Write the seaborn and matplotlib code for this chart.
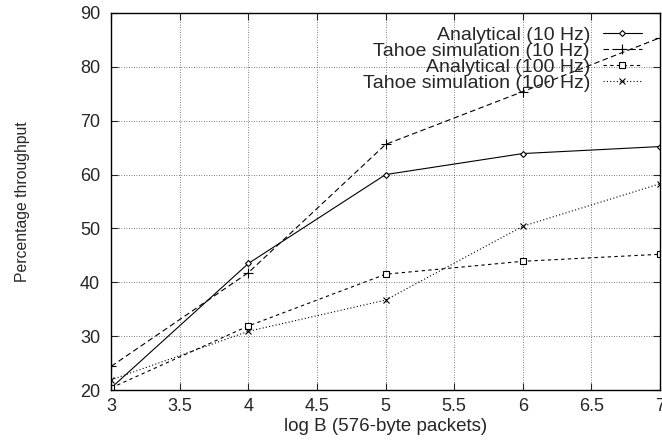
import numpy as np
import pandas as pd
import seaborn as sns
import matplotlib
matplotlib.use("Agg")
import matplotlib.pyplot as plt

# =============================================================================
# DATA
# =============================================================================

log_b = [3, 4, 5, 6, 7]

analytical_10 = [20.4, 43.5, 60.0, 63.9, 65.2]
tahoe_10 = [24.4, 41.8, 65.6, 75.4, 85.4]
analytical_100 = [20.4, 31.9, 41.5, 43.9, 45.2]
tahoe_100 = [21.9, 30.9, 36.7, 50.4, 58.3]

labels = [
    "Analytical (10 Hz)",
    "Tahoe simulation (10 Hz)",
    "Analytical (100 Hz)",
    "Tahoe simulation (100 Hz)",
]

x_ticks = [3, 3.5, 4, 4.5, 5, 5.5, 6, 6.5, 7]
x_tick_labels = ["3", "3.5", "4", "4.5", "5", "5.5", "6", "6.5", "7"]
y_ticks = [20, 30, 40, 50, 60, 70, 80, 90]

# =============================================================================
# STYLE
# =============================================================================

sns.set_style("ticks")
plt.rcParams["font.family"] = ["Liberation Sans", "DejaVu Sans"]

fig = plt.figure(figsize=(6.62, 4.41), dpi=100)
ax = fig.add_axes([0.168, 0.1156, 0.829, 0.855])

series = [analytical_10, tahoe_10, analytical_100, tahoe_100]
styles = [
    dict(linestyle="-", marker="D", markersize=3, markerfacecolor="white"),
    dict(linestyle=(0, (5, 3)), marker="+", markersize=7),
    dict(linestyle=(0, (3, 3)), marker="s", markersize=5, markerfacecolor="white"),
    dict(linestyle=(0, (1, 2)), marker="x", markersize=5),
]

for vals, lab, st in zip(series, labels, styles):
    sns.lineplot(
        x=log_b,
        y=vals,
        ax=ax,
        label=lab,
        color="black",
        linewidth=0.8,
        markeredgecolor="black",
        markeredgewidth=0.8,
        **st
    )

# =============================================================================
# AXES
# =============================================================================

ax.set_xlim(3, 7)
ax.set_ylim(20, 90)
ax.set_xticks(x_ticks)
ax.set_xticklabels(x_tick_labels)
ax.set_yticks(y_ticks)

ax.grid(True, linestyle=(0, (1, 2)), color="#555555", linewidth=0.6)
ax.tick_params(direction="in", top=True, right=True, labelsize=13, length=5)
ax.tick_params(axis="x", pad=6)
ax.tick_params(axis="y", pad=8)
for s in ax.spines.values():
    s.set_visible(True)
    s.set_linewidth(1.0)
    s.set_color("black")

ax.set_xlabel("log B (576-byte packets)", fontsize=13.5, labelpad=2)
ax.set_ylabel("Percentage throughput", fontsize=11.3, labelpad=36)

leg = ax.legend(
    loc="upper right",
    bbox_to_anchor=(0.967, 0.965),
    frameon=False,
    markerfirst=False,
    fontsize=14,
    handlelength=2.0,
    labelspacing=-0.08,
    handletextpad=0.67,
    borderaxespad=0,
    borderpad=0,
)

plt.savefig("out.png", dpi=100)
